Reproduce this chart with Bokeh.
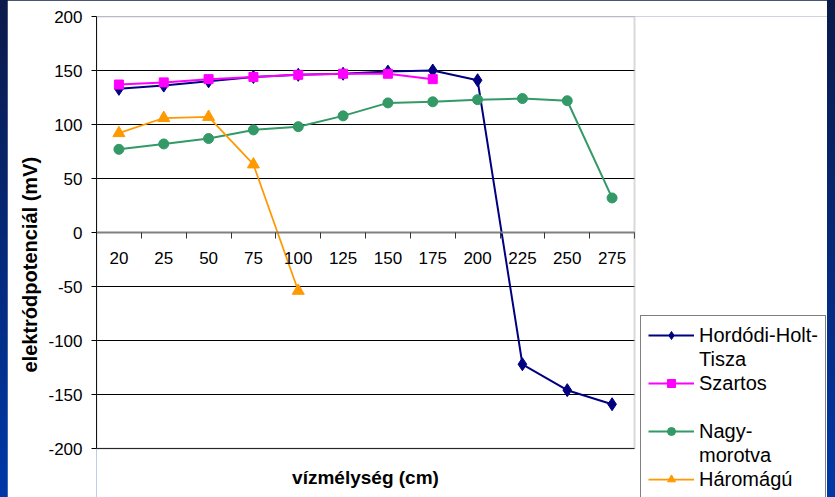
import re
from bokeh.plotting import figure
from bokeh.models import (Range1d, LinearAxis, FixedTicker, Legend, LegendItem, Title, Label,
                          BoxAnnotation, CustomJSTickFormatter, PrintfTickFormatter)
from bokeh.embed import file_html
from bokeh.resources import INLINE

# ---- data ----
categories = ["20", "25", "50", "75", "100", "125", "150", "175", "200", "225", "250", "275"]
y_ticks = [-200, -150, -100, -50, 0, 50, 100, 150, 200]
hordodi = [133, 136, 140, 144, 146, 147, 149, 150, 141, -122, -146, -159]
szartos = [137, 139, 142, 144, 146, 147, 147, 142]
nagymorotva = [77, 82, 87, 95, 98, 108, 120, 121, 123, 124, 122, 32]
haromagu = [92, 106, 107, 63, -54]

FONT = "Liberation Sans"
NAVY, MAGENTA, GREEN, ORANGE = "#000080", "#FF00FF", "#339966", "#FF9900"

# ---- layout constants (pixels) ----
W, H = 820, 497
LEFT, TOP = 89, 16          # frame offset inside the figure
PLOT_W, PLOT_H = 538, 432   # size of the chart's plot area
n = len(categories)
y_min, y_max = min(y_ticks), max(y_ticks)
x_end = n * (W - LEFT) / PLOT_W
y_lo = y_max - (H - TOP) * (y_max - y_min) / PLOT_H

xpos = [i + 0.5 for i in range(n)]
bounds = list(range(n + 1))

p = figure(width=W, height=H,
           x_range=Range1d(0, x_end), y_range=Range1d(y_lo, y_max),
           output_backend="svg", toolbar_location=None, x_axis_location=None,
           min_border_left=LEFT, min_border_right=0, min_border_top=TOP, min_border_bottom=0)
p.background_fill_color = "white"
p.border_fill_color = "white"
p.outline_line_color = None

# y axis
yax = p.yaxis[0]
yax.ticker = FixedTicker(ticks=y_ticks)
yax.bounds = (y_min, y_max)
yax.formatter = PrintfTickFormatter(format="%d")
yax.axis_line_color = "black"
yax.major_tick_out = 5
yax.major_tick_in = 0
yax.minor_tick_line_color = None
yax.major_tick_line_color = "black"
yax.major_label_text_font = FONT
yax.major_label_text_font_size = "17px"
yax.major_label_text_color = "black"
yax.major_label_standoff = 9

p.ygrid.ticker = FixedTicker(ticks=y_ticks)
p.ygrid.grid_line_color = "black"
p.ygrid.grid_line_width = 1
p.xgrid.visible = False

# blank area right of the plot area (legend side)
p.add_layout(BoxAnnotation(left=n, fill_color="white", fill_alpha=1, line_color=None,
                           level="glyph"))
# plot-area border
p.add_layout(BoxAnnotation(left=0, right=n, bottom=y_min, top=y_max, fill_alpha=0,
                           line_color="#808080", line_width=2, level="annotation"))

# x axis on the zero line: tick marks at category boundaries, labels at centres
ax_tick = LinearAxis(ticker=FixedTicker(ticks=bounds),
                     formatter=CustomJSTickFormatter(code="return ''"), bounds=(0, n),
                     fixed_location=0, axis_line_color="#808080", axis_line_width=2,
                     major_tick_out=6, major_tick_in=0, major_tick_line_color="#333333",
                     minor_tick_line_color=None)
ax_lab = LinearAxis(ticker=FixedTicker(ticks=xpos),
                    major_label_overrides={x: c for x, c in zip(xpos, categories)},
                    fixed_location=0, axis_line_color=None, major_tick_line_color=None,
                    major_tick_out=0, major_tick_in=0, minor_tick_line_color=None,
                    major_label_standoff=19, major_label_text_font=FONT,
                    major_label_text_font_size="17px", major_label_text_color="black")
p.add_layout(ax_tick, "below")
p.add_layout(ax_lab, "below")

# series
series = [
    (hordodi, NAVY, dict(marker="diamond", size=13), 2),
    (szartos, MAGENTA, dict(marker="square", size=9), 2),
    (nagymorotva, GREEN, dict(marker="circle", size=10), 2),
    (haromagu, ORANGE, dict(marker="triangle", size=12), 1.75),
]
rends = []
for vals, col, mk, lw in series:
    xs = xpos[:len(vals)]
    rl = p.line(xs, vals, line_color=col, line_width=lw)
    rm = p.scatter(xs, vals, fill_color=col, line_color=col, **mk)
    rends.append([rl, rm])

legend = Legend(items=[
    LegendItem(label="Hordódi-Holt-", renderers=rends[0]),
    LegendItem(label="Tisza", renderers=[]),
    LegendItem(label="Szartos", renderers=rends[1]),
    LegendItem(label=" ", renderers=[]),
    LegendItem(label="Nagy-", renderers=rends[2]),
    LegendItem(label="morotva", renderers=[]),
    LegendItem(label="Háromágú", renderers=rends[3]),
], location=(PLOT_W + 6, -2), margin=0, padding=7, spacing=0, label_height=24,
    glyph_height=20, glyph_width=46, label_standoff=5,
    label_text_font=FONT, label_text_font_size="20px", label_text_color="black",
    border_line_color="black", border_line_width=1,
    background_fill_color="white", background_fill_alpha=1)
p.add_layout(legend, "center")

# axis titles
p.add_layout(Title(text="elektródpotenciál (mV)", align="left", offset=125, standoff=10,
                   text_font=FONT, text_font_size="20px", text_font_style="bold",
                   text_color="black"), "left")
p.add_layout(Label(x=n / 2, y=y_lo + 20 * (y_max - y_min) / PLOT_H,
                   text="vízmélység (cm)", text_align="center", text_baseline="middle",
                   text_font=FONT, text_font_size="19px", text_font_style="bold",
                   text_color="black"))

html = file_html(p, INLINE, title="elektródpotenciál")
css = ("<style>html{margin:0 !important;padding:0 !important;"
       "background:linear-gradient(#0a1a4a,#0038a8) !important;}"
       "body{margin:0 !important;padding:0 8px 0 7px !important;"
       "background:transparent !important;}</style>")
if "</head>" in html:
    html = html.replace("</head>", css + "</head>", 1)
else:
    html = re.sub(r"(<body[^>]*>)", r"\1" + css, html, count=1)
open("out.html", "w").write(html)
